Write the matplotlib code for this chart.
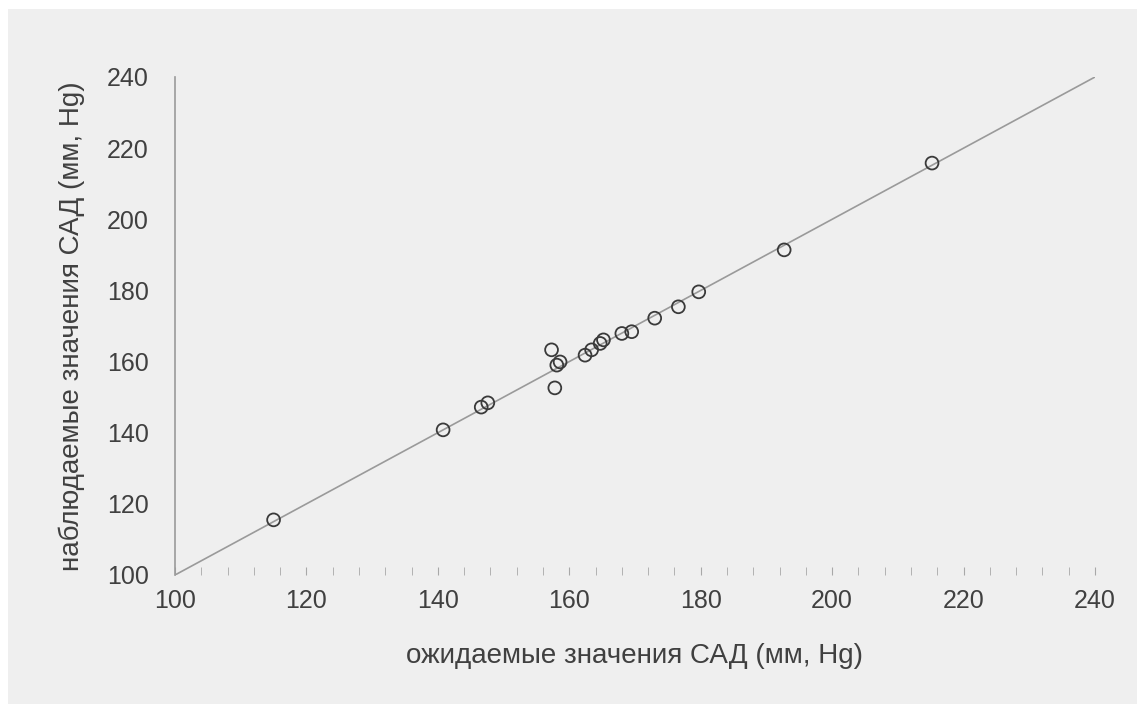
import numpy as np
import matplotlib.pyplot as plt
from matplotlib.ticker import MultipleLocator
from matplotlib.patches import Rectangle

# ожидаемые и наблюдаемые значения САД
ozhid = [115.0, 140.8, 146.6, 147.6, 157.8, 157.3, 158.1, 158.6, 162.4, 163.4,
         164.7, 165.2, 168.0, 169.5, 173.0, 176.6, 179.7, 192.7, 215.2]
nabl = [115.5, 140.8, 147.2, 148.4, 152.6, 163.3, 159.0, 159.9, 161.8, 163.3,
        165.1, 166.1, 167.9, 168.4, 172.2, 175.4, 179.6, 191.4, 215.8]
liniya = [100, 240]

plt.rcParams['font.family'] = ['Liberation Sans', 'DejaVu Sans']

fig = plt.figure(figsize=(11.37, 7.04), dpi=100)
fig.patch.set_facecolor('white')
fig.patches.append(Rectangle((8 / 1137, 0), 1, 1 - 9 / 704, transform=fig.transFigure,
                             facecolor='#efefef', edgecolor='none', zorder=-10))

ax = fig.add_axes([175 / 1137, 1 - 575 / 704, 920 / 1137, 498 / 704])
ax.set_facecolor('none')

ax.plot(liniya, liniya, color='#9a9a9a', lw=1.2, zorder=1)
ax.scatter(ozhid, nabl, s=85, facecolors='none', edgecolors='#3a3a3a',
           linewidths=1.3, zorder=2)

ax.set_xlim(100, 240)
ax.set_ylim(100, 240)
ax.xaxis.set_major_locator(MultipleLocator(20))
ax.xaxis.set_minor_locator(MultipleLocator(4))
ax.yaxis.set_major_locator(MultipleLocator(20))

for s in ['top', 'right', 'bottom']:
    ax.spines[s].set_visible(False)
ax.spines['left'].set_color('#9a9a9a')
ax.spines['left'].set_linewidth(1.2)

ax.tick_params(axis='x', which='both', direction='in', length=6, color='#a8a8a8',
               labelsize=18, labelcolor='#404040', pad=10)
ax.tick_params(axis='y', which='major', length=0, labelsize=18,
               labelcolor='#404040', pad=19)

ax.set_xlabel('ожидаемые значения САД (мм, Hg)', fontsize=20, color='#404040', labelpad=22)
ax.set_ylabel('наблюдаемые значения САД (мм, Hg)', fontsize=20, color='#404040', labelpad=16)

fig.savefig('out.png', dpi=100)
